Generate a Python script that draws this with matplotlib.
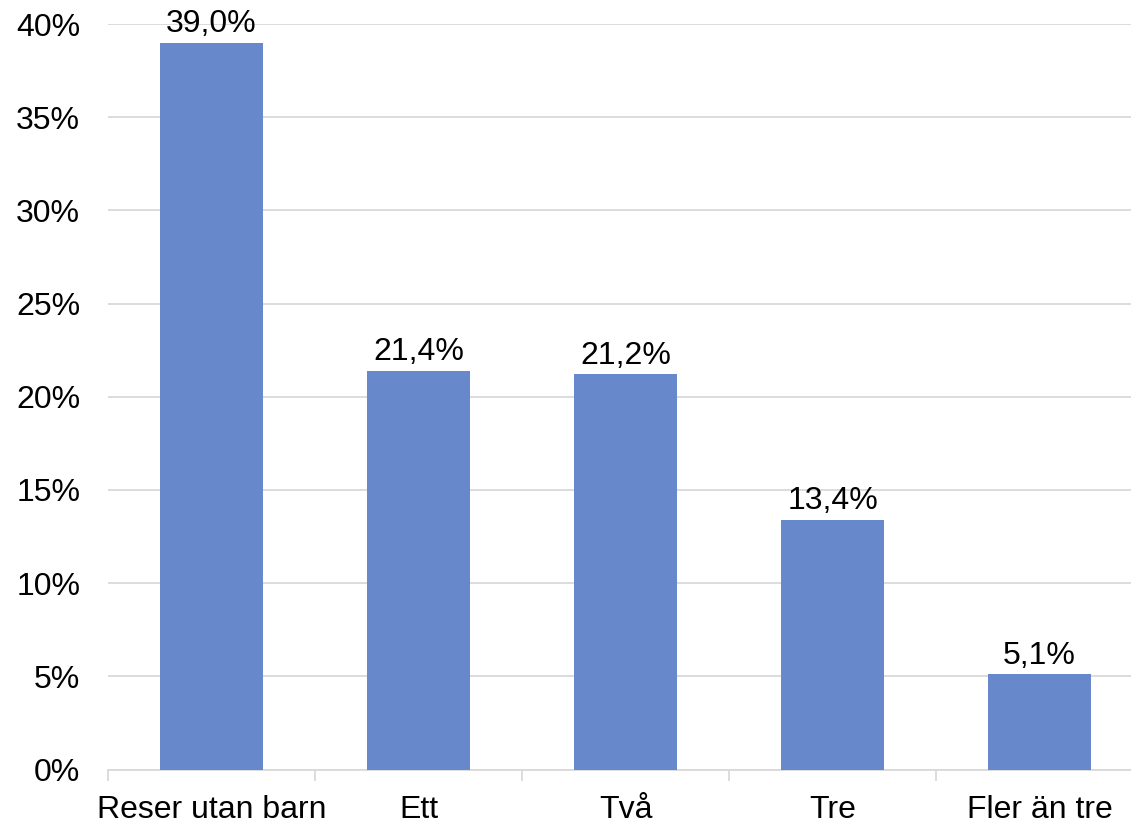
import matplotlib.pyplot as plt
import numpy as np
from matplotlib.ticker import FuncFormatter, MultipleLocator

plt.rcParams['font.family'] = ['Liberation Sans', 'DejaVu Sans']

categories = ['Reser utan barn', 'Ett', 'Två', 'Tre', 'Fler än tre']
shares = [39.0, 21.4, 21.2, 13.4, 5.1]

bar_color = '#6788CB'
grid_color = '#D9D9D9'

fig = plt.figure(figsize=(11.31, 8.25), dpi=100)
ax = fig.add_axes([108/1131, 55.5/825, 1035/1131, 745.5/825])

x = np.arange(len(categories))
bars = ax.bar(x, shares, width=0.5, color=bar_color, zorder=3)

for xi, v in zip(x, shares):
    ax.text(xi, v + 0.2, f'{v:.1f}%'.replace('.', ','), ha='center', va='bottom',
            fontsize=23, color='black', zorder=4)

ax.set_xlim(-0.5, len(categories) - 0.5)
ax.set_ylim(0, 40)
ax.yaxis.set_major_locator(MultipleLocator(5))
ax.yaxis.set_major_formatter(FuncFormatter(lambda v, p: f'{v:.0f}%'))
ax.grid(axis='y', color=grid_color, linewidth=1.3, zorder=0)

ax.set_xticks(x)
ax.set_xticklabels(categories)
ax.set_xticks(np.arange(len(categories) + 1) - 0.5, minor=True)
ax.tick_params(axis='x', which='major', length=0, pad=18, labelsize=23)
ax.tick_params(axis='x', which='minor', length=8, width=1.3, color=grid_color)
ax.tick_params(axis='y', length=0, pad=20, labelsize=23)

for side in ['top', 'right', 'left']:
    ax.spines[side].set_visible(False)
ax.spines['bottom'].set_color(grid_color)
ax.spines['bottom'].set_linewidth(1.3)

fig.savefig('out.png', dpi=100)
